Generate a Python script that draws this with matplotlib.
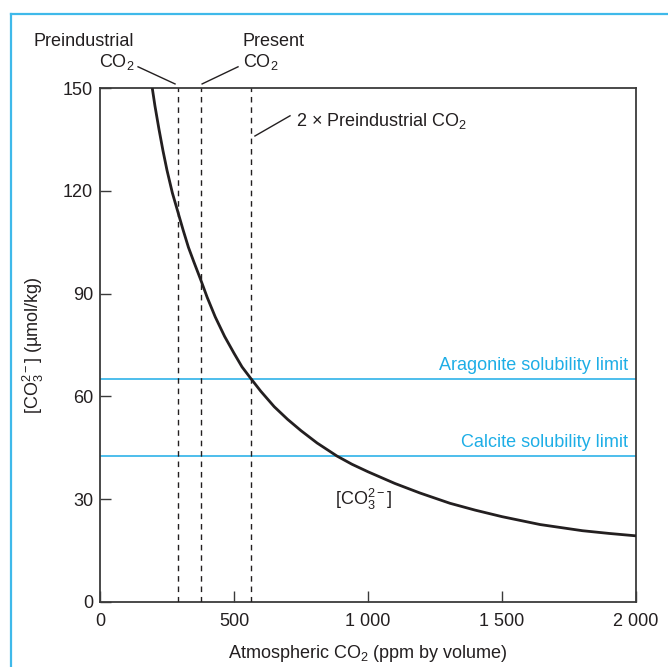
import matplotlib
matplotlib.use('Agg')
import matplotlib.pyplot as plt
from matplotlib.lines import Line2D

plt.rcParams['font.family'] = ['Liberation Sans', 'DejaVu Sans']
plt.rcParams['mathtext.fontset'] = 'custom'
plt.rcParams['mathtext.rm'] = 'Liberation Sans'
plt.rcParams['mathtext.it'] = 'Liberation Sans:italic'
plt.rcParams['mathtext.bf'] = 'Liberation Sans:bold'

# carbonate ion concentration vs atmospheric CO2
co2_ppm = [195, 205, 220, 235, 250, 270, 290, 310, 330, 350, 376, 400,
           430, 465, 500, 530, 563, 600, 650, 700, 750, 810, 884, 940,
           1000, 1100, 1194, 1306, 1400, 1500, 1642, 1800, 1900, 2000]
co3 = [150, 144.8, 138, 131.7, 126, 119.4, 114, 108.6, 103.5, 99.3, 94,
       88.9, 83.2, 77.5, 72.6, 68.6, 65.2, 61.5, 57, 53.3, 50, 46.4,
       42.6, 40.2, 38, 34.6, 31.8, 28.8, 26.8, 24.9, 22.6, 20.8, 20.0,
       19.3]

aragonite_limit = 65.2
calcite_limit = 42.7
preindustrial = 290
present = 377
doubled = 563

xticks = [0, 500, 1000, 1500, 2000]
xticklabels = ['0', '500', '1 000', '1 500', '2 000']
yticks = [0, 30, 60, 90, 120, 150]

CYAN = '#3fb9ea'
TXT_CYAN = '#1eaee6'
DARK = '#231f20'
AX = '#3a3a3a'
FS = 13


def main():
    fig = plt.figure(figsize=(6.68, 6.67), dpi=100)
    ax = fig.add_axes([0.1497, 0.0975, 0.8024, 0.7705])

    ax.plot(co2_ppm, co3, color=DARK, lw=2.0, solid_capstyle='butt',
            solid_joinstyle='round', zorder=4)

    ax.axhline(aragonite_limit, color=CYAN, lw=1.3, zorder=2)
    ax.axhline(calcite_limit, color=CYAN, lw=1.3, zorder=2)
    for xv in (preindustrial, present, doubled):
        ax.axvline(xv, color=DARK, lw=1.0, ls=(0, (4, 3.5)), zorder=3)

    ax.set_xlim(0, 2000)
    ax.set_ylim(0, 150)
    ax.set_xticks(xticks)
    ax.set_xticklabels(xticklabels)
    ax.set_yticks(yticks)
    ax.tick_params(direction='in', length=8, width=1.0, color=AX,
                   labelsize=FS, labelcolor=DARK)
    ax.tick_params(axis='x', pad=8)
    ax.tick_params(axis='y', pad=5)
    for sp in ax.spines.values():
        sp.set_color(AX)
        sp.set_linewidth(1.3)

    ax.set_xlabel(r'Atmospheric CO$_2$ (ppm by volume)', fontsize=FS,
                  color=DARK, labelpad=9)
    ax.set_ylabel(r'[CO$_3^{2-}$] (µmol/kg)', fontsize=FS, color=DARK,
                  labelpad=12)

    ax.text(1970, aragonite_limit + 1.3, 'Aragonite solubility limit',
            color=TXT_CYAN, fontsize=FS, ha='right', va='bottom')
    ax.text(1970, calcite_limit + 1.3, 'Calcite solubility limit',
            color=TXT_CYAN, fontsize=FS, ha='right', va='bottom')
    ax.text(985, 30, r'[CO$_3^{2-}$]', color=DARK, fontsize=FS,
            ha='center', va='center')

    # annotations above the axes
    ax.text(128, 156.2, 'Preindustrial\nCO$_2$', color=DARK, fontsize=FS,
            ha='right', va='baseline', multialignment='right',
            linespacing=1.15, clip_on=False)
    ax.plot([142, 280], [156.2, 151.2], color=DARK, lw=1.0, clip_on=False)

    ax.text(532, 156.2, 'Present\nCO$_2$', color=DARK, fontsize=FS,
            ha='left', va='baseline', multialignment='left',
            linespacing=1.15, clip_on=False)
    ax.plot([381, 515], [151.2, 156.2], color=DARK, lw=1.0, clip_on=False)

    ax.text(730, 140.5, r'2 $\times$ Preindustrial CO$_2$', color=DARK,
            fontsize=FS, ha='left', va='center')
    ax.plot([578, 709], [136, 141.9], color=DARK, lw=1.0)

    # cyan frame
    fig.add_artist(Line2D([0.0165, 1.0], [0.979, 0.979], color=CYAN, lw=1.6))
    fig.add_artist(Line2D([0.0165, 0.0165], [0.0, 0.979], color=CYAN, lw=1.6))

    fig.savefig('out.png', dpi=100)


if __name__ == '__main__':
    main()
